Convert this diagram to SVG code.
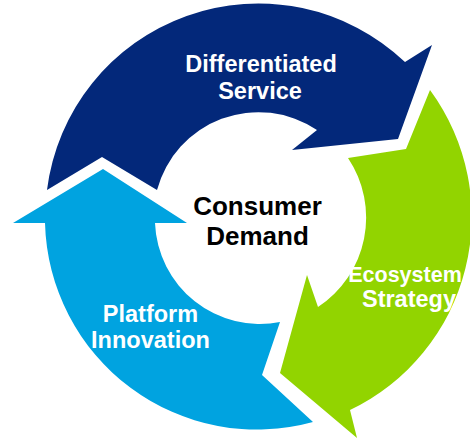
<svg xmlns="http://www.w3.org/2000/svg" width="470" height="440" viewBox="0 0 470 440">
  <style>
    .lbl { font-family: "Liberation Sans", Arial, sans-serif; font-weight: bold; font-size: 23.5px; fill: #ffffff; text-anchor: middle; }
    .center { font-family: "Liberation Sans", Arial, sans-serif; font-weight: bold; font-size: 26px; fill: #000000; text-anchor: middle; }
    .navy { fill: #03287A; }
    .green { fill: #92D400; }
    .blue { fill: #00A3E0; }
  </style>
  <rect width="470" height="440" fill="#ffffff"/>
  <g id="connectors"/>
  <g id="differentiated-service">
    <path class="navy" d="M47,190 L102,157 L157,190 A105,105 0 0,1 317,130 L292,150 L398,139 L432,45 L405,62 A213,213 0 0,0 47,190 Z"/>
    <text class="lbl" x="261" y="72">Differentiated</text>
    <text class="lbl" x="260" y="99">Service</text>
  </g>
  <g id="ecosystem-strategy">
    <path class="green" d="M430,90 L406,149 L348,158 A107,107 0 0,1 318,307 L307,275 L280,373 L357,438 L350,410 A214,214 0 0,0 430,90 Z"/>
    <text class="lbl" x="405" y="282" style="font-size:21.5px">Ecosystem</text>
    <text class="lbl" x="409" y="307">Strategy</text>
  </g>
  <g id="platform-innovation">
    <path class="blue" d="M103,169 L187,223 L155,223 A105,105 0 0,0 280,322 L262,375 L313,422 A212,212 0 0,1 45,223 L13,223 Z"/>
    <text class="lbl" x="150.5" y="322">Platform</text>
    <text class="lbl" x="150.5" y="348">Innovation</text>
  </g>
  <g id="consumer-demand">
    <text class="center" x="257.5" y="215">Consumer</text>
    <text class="center" x="257.5" y="245">Demand</text>
  </g>
</svg>
